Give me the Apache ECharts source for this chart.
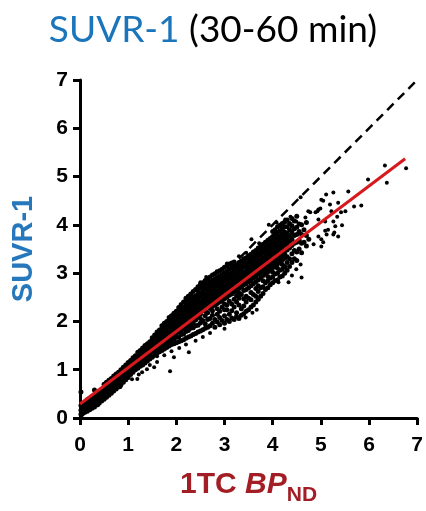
<!DOCTYPE html>
<html>
<head>
<meta charset="utf-8">
<script src="https://cdn.jsdelivr.net/npm/echarts@6/dist/echarts.min.js"></script>
<style>
  html, body { margin: 0; padding: 0; background: #fff; }
  #chart { width: 426px; height: 511px; }
</style>
</head>
<body>
<div id="chart"></div>
<script>
// Axis ticks
const tickValues = [0, 1, 2, 3, 4, 5, 6, 7];

// Dense cloud, one column per x: [x, y1, y2, ...]
const colsLow = [
  [0.02, 0.08, 0.16, 0.26, 0.54],
  [0.05, 0.10, 0.19, 0.30],
  [0.10, 0.12, 0.21, 0.28],
  [0.15, 0.14, 0.22, 0.31, 0.38],
  [0.20, 0.17, 0.26, 0.33, 0.41],
  [0.25, 0.20, 0.28, 0.37, 0.44],
  [0.30, 0.23, 0.32, 0.39, 0.47, 0.58],
  [0.35, 0.27, 0.34, 0.43, 0.51],
  [0.40, 0.31, 0.40, 0.47, 0.55],
  [0.45, 0.35, 0.42, 0.51, 0.59],
  [0.50, 0.39, 0.48, 0.55, 0.63, 0.70],
  [0.55, 0.43, 0.50, 0.59, 0.66, 0.74],
  [0.60, 0.47, 0.56, 0.63, 0.71, 0.78],
  [0.65, 0.51, 0.58, 0.67, 0.74, 0.82],
  [0.70, 0.56, 0.65, 0.72, 0.80, 0.87],
  [0.75, 0.60, 0.67, 0.76, 0.83, 0.91],
  [0.80, 0.64, 0.73, 0.80, 0.88, 0.95],
  [0.85, 0.69, 0.76, 0.85, 0.92, 1.00],
  [0.90, 0.74, 0.83, 0.90, 0.98, 1.05],
  [0.95, 0.79, 0.86, 0.95, 1.02, 1.10],
  [1.00, 0.84, 0.93, 1.00, 1.08, 1.15],
  [1.05, 0.90, 0.97, 1.06, 1.12, 1.19],
  [1.10, 0.95, 1.04, 1.11, 1.18, 1.25],
  [1.15, 1.00, 1.07, 1.16, 1.22, 1.29],
  [1.20, 1.03, 1.13, 1.21, 1.29, 1.36],
  [1.25, 1.07, 1.15, 1.25, 1.32, 1.40],
  [1.30, 1.10, 1.20, 1.28, 1.37, 1.45],
  [1.35, 1.14, 1.22, 1.32, 1.40, 1.50],
  [1.40, 1.18, 1.28, 1.36, 1.45, 1.54],
  [1.45, 1.22, 1.30, 1.40, 1.48, 1.58]
];

const colsMid = [
  [1.50, 1.26, 1.36, 1.44, 1.53, 1.61, 1.66],
  [1.55, 1.30, 1.38, 1.48, 1.56, 1.66, 1.72],
  [1.60, 1.34, 1.44, 1.52, 1.61, 1.69, 1.78],
  [1.65, 1.37, 1.45, 1.55, 1.63, 1.73, 1.82],
  [1.70, 1.40, 1.50, 1.58, 1.67, 1.75, 1.85, 1.91],
  [1.75, 1.43, 1.51, 1.61, 1.69, 1.79, 1.87, 1.96],
  [1.80, 1.46, 1.56, 1.64, 1.73, 1.81, 1.91, 2.00],
  [1.85, 1.49, 1.57, 1.67, 1.75, 1.85, 1.93, 2.03, 2.08],
  [1.90, 1.52, 1.62, 1.70, 1.79, 1.87, 1.97, 2.05, 2.12],
  [1.95, 1.54, 1.63, 1.73, 1.81, 1.91, 1.99, 2.09, 2.17],
  [2.00, 1.56, 1.67, 1.76, 1.85, 1.93, 2.03, 2.11, 2.21],
  [2.05, 1.58, 1.68, 1.79, 1.87, 1.97, 2.05, 2.15, 2.23, 2.29],
  [2.10, 1.60, 1.73, 1.82, 1.91, 1.99, 2.09, 2.17, 2.27, 2.35],
  [2.15, 1.62, 1.74, 1.85, 1.93, 2.03, 2.11, 2.21, 2.29, 2.40],
  [2.20, 1.65, 1.79, 1.88, 1.97, 2.05, 2.15, 2.23, 2.33, 2.41, 2.48],
  [2.25, 1.68, 1.81, 1.91, 1.99, 2.09, 2.17, 2.27, 2.35, 2.45, 2.52],
  [2.30, 1.70, 1.86, 1.94, 2.03, 2.11, 2.21, 2.29, 2.39, 2.47, 2.57],
  [2.35, 1.73, 1.87, 1.97, 2.05, 2.15, 2.23, 2.33, 2.41, 2.51, 2.62],
  [2.40, 1.75, 1.91, 2.03, 2.09, 2.17, 2.27, 2.35, 2.45, 2.53, 2.66],
  [2.45, 1.78, 1.92, 2.11, 2.21, 2.29, 2.39, 2.47, 2.57, 2.65, 2.72],
  [2.50, 1.80, 1.97, 2.06, 2.15, 2.23, 2.33, 2.41, 2.51, 2.59, 2.69, 2.77],
  [2.55, 1.83, 2.02, 2.26, 2.36, 2.44, 2.54, 2.62, 2.72, 2.80],
  [2.60, 1.86, 1.95, 2.12, 2.21, 2.31, 2.39, 2.49, 2.57, 2.67, 2.75, 2.85],
  [2.65, 1.88, 2.04, 2.18, 2.32, 2.42, 2.50, 2.60, 2.68, 2.78, 2.88],
  [2.70, 1.91, 2.06, 2.27, 2.37, 2.45, 2.55, 2.63, 2.73, 2.81, 2.92],
  [2.75, 1.96, 2.13, 2.22, 2.31, 2.39, 2.49, 2.57, 2.67, 2.75, 2.85, 2.96],
  [2.80, 1.88, 2.04, 2.34, 2.44, 2.52, 2.62, 2.70, 2.80, 2.88, 2.99],
  [2.85, 1.99, 2.15, 2.26, 2.37, 2.45, 2.55, 2.63, 2.73, 2.81, 2.91, 3.02],
  [2.90, 1.93, 2.08, 2.21, 2.40, 2.50, 2.58, 2.68, 2.76, 2.86, 2.94, 3.05],
  [2.95, 2.02, 2.30, 2.43, 2.51, 2.61, 2.69, 2.79, 2.87, 2.97, 3.08]
];

const colsHigh = [
  [3.00, 1.96, 2.12, 2.24, 2.36, 2.47, 2.55, 2.65, 2.73, 2.83, 2.91, 3.01, 3.12],
  [3.05, 2.04, 2.24, 2.34, 2.50, 2.58, 2.68, 2.76, 2.86, 2.94, 3.04, 3.15],
  [3.10, 2.00, 2.15, 2.42, 2.54, 2.62, 2.72, 2.80, 2.90, 2.98, 3.08, 3.19],
  [3.15, 2.07, 2.22, 2.36, 2.57, 2.65, 2.75, 2.83, 2.93, 3.01, 3.11, 3.21],
  [3.20, 2.04, 2.30, 2.46, 2.61, 2.69, 2.79, 2.87, 2.97, 3.05, 3.15, 3.23],
  [3.25, 2.10, 2.18, 2.40, 2.53, 2.63, 2.73, 2.81, 2.91, 2.99, 3.09, 3.17],
  [3.30, 2.06, 2.34, 2.48, 2.59, 2.68, 2.78, 2.86, 2.96, 3.04, 3.14, 3.22],
  [3.35, 2.13, 2.26, 2.56, 2.71, 2.79, 2.89, 2.97, 3.07, 3.15, 3.25],
  [3.40, 2.16, 2.32, 2.47, 2.64, 2.76, 2.84, 2.94, 3.02, 3.12, 3.20, 3.30],
  [3.45, 2.21, 2.40, 2.52, 2.66, 2.78, 2.86, 2.96, 3.04, 3.14, 3.22, 3.32],
  [3.50, 2.24, 2.48, 2.70, 2.82, 2.90, 3.00, 3.08, 3.18, 3.26, 3.36],
  [3.55, 2.30, 2.45, 2.60, 2.74, 2.85, 2.93, 3.03, 3.11, 3.21, 3.29, 3.39],
  [3.60, 2.34, 2.56, 2.78, 2.90, 2.98, 3.08, 3.16, 3.26, 3.34, 3.44],
  [3.65, 2.40, 2.52, 2.68, 2.82, 2.93, 3.01, 3.11, 3.19, 3.29, 3.37, 3.47],
  [3.70, 2.46, 2.62, 2.74, 2.86, 2.98, 3.06, 3.16, 3.24, 3.34, 3.42, 3.52],
  [3.75, 2.52, 2.70, 2.90, 3.00, 3.09, 3.19, 3.27, 3.37, 3.45, 3.55],
  [3.80, 2.58, 2.72, 2.84, 2.95, 3.05, 3.13, 3.23, 3.31, 3.41, 3.50, 3.60],
  [3.85, 2.66, 2.80, 2.99, 3.08, 3.16, 3.26, 3.34, 3.44, 3.53, 3.64],
  [3.90, 2.70, 2.84, 2.93, 3.03, 3.13, 3.21, 3.31, 3.39, 3.49, 3.58, 3.68],
  [3.95, 2.76, 2.90, 3.07, 3.16, 3.24, 3.34, 3.42, 3.52, 3.61, 3.72],
  [4.00, 2.80, 2.92, 3.02, 3.11, 3.21, 3.29, 3.39, 3.47, 3.57, 3.66, 3.76, 3.86],
  [4.05, 2.84, 2.98, 3.15, 3.24, 3.32, 3.42, 3.50, 3.60, 3.69, 3.80, 3.90],
  [4.10, 2.86, 3.00, 3.10, 3.19, 3.29, 3.37, 3.47, 3.55, 3.65, 3.74, 3.84, 3.96],
  [4.15, 2.92, 3.06, 3.23, 3.32, 3.40, 3.50, 3.58, 3.68, 3.77, 3.88, 3.99],
  [4.20, 2.94, 3.08, 3.18, 3.27, 3.37, 3.45, 3.55, 3.63, 3.73, 3.82, 3.92, 4.03],
  [4.25, 3.00, 3.14, 3.31, 3.40, 3.48, 3.58, 3.66, 3.76, 3.85, 3.96, 4.06],
  [4.30, 3.06, 3.22, 3.34, 3.48, 3.60, 3.71, 3.82, 3.96, 4.10],
  [4.35, 3.14, 3.30, 3.52, 3.66, 3.77, 3.90, 4.03],
  [4.40, 3.22, 3.40, 3.57, 3.70, 3.84, 3.98, 4.13],
  [4.45, 3.30, 3.47, 3.62, 3.78, 3.92, 4.08],
  [4.50, 3.26, 3.44, 3.64, 3.80, 3.95, 4.18],
  [4.55, 3.50, 3.68, 3.86, 4.02],
  [4.60, 3.42, 3.62, 3.80, 4.00],
  [4.65, 3.64, 3.90],
  [4.70, 3.56, 3.78, 4.05],
  [4.75, 3.70]
];

// Scattered points below the main band
const sparseLow = [
  [0.38, 0.27], [0.84, 0.64], [1.08, 0.80], [1.19, 0.81], [1.22, 0.90],
  [1.29, 0.95], [1.39, 1.01], [1.54, 1.05], [1.45, 1.10], [1.60, 1.16],
  [1.60, 1.28], [1.87, 0.97], [1.95, 1.26], [1.75, 1.30], [1.90, 1.38],
  [2.06, 1.45], [2.26, 1.36], [2.20, 1.52], [2.40, 1.60], [2.55, 1.68],
  [2.70, 1.76], [3.00, 1.85], [3.44, 2.08], [3.67, 2.24], [3.58, 2.18],
  [4.12, 2.81], [4.33, 2.81], [4.40, 2.95], [4.49, 3.08], [4.58, 3.18],
  [4.60, 2.91], [4.85, 3.60], [5.01, 3.55], [5.05, 3.64]
];

// Scattered points above the band and along the upper tail
const sparseHigh = [
  [2.50, 2.81], [2.62, 2.92], [2.84, 3.04], [3.05, 3.20], [3.30, 3.35],
  [3.45, 3.42], [3.56, 3.70], [3.72, 3.62], [3.92, 4.00], [4.08, 4.05],
  [4.16, 3.97], [4.26, 4.11], [4.37, 4.17], [4.49, 4.07], [4.58, 4.57],
  [4.68, 4.15], [4.74, 4.28], [4.78, 4.26], [4.89, 4.26], [4.93, 4.28],
  [4.95, 4.32], [4.95, 4.11], [4.99, 4.34], [5.01, 4.52], [5.01, 3.70],
  [4.95, 3.76], [5.05, 4.50], [5.09, 4.07], [5.09, 3.88], [5.11, 4.63],
  [5.12, 3.80], [5.15, 3.90], [5.19, 4.42], [5.22, 4.28], [5.26, 4.67],
  [5.26, 4.07], [5.26, 3.80], [5.28, 3.84], [5.30, 3.97], [5.34, 4.17],
  [5.36, 4.46], [5.36, 3.76], [5.42, 4.26], [5.44, 3.99], [5.51, 4.28],
  [5.57, 4.69], [5.69, 4.38], [5.84, 4.40], [5.98, 4.94], [6.33, 5.23],
  [6.37, 4.87], [6.77, 5.17]
];

// Fitted regression line and line of identity
const fitLine = [[0, 0.29], [6.75, 5.37]];
const identityLine = [[0, 0], [7, 7]];

const densePoints = [].concat(colsLow, colsMid, colsHigh)
  .flatMap(col => col.slice(1).map(y => [col[0], y]));
const sparsePoints = sparseLow.concat(sparseHigh);

const axisFont = {
  fontFamily: 'Liberation Sans, Arial, sans-serif',
  fontWeight: 'bold',
  fontSize: 21,
  color: '#000'
};
const nameFont = 'Liberation Sans, Arial, sans-serif';
const nameRed = '#a31d24';

const chart = echarts.init(document.getElementById('chart'), null, { renderer: 'canvas' });

chart.setOption({
  animation: false,
  backgroundColor: '#fff',
  title: {
    text: '{a|SUVR-1}{b| (30-60 min)}',
    left: 'center',
    top: 7,
    textStyle: {
      fontWeight: 'normal',
      rich: {
        a: { fontFamily: 'Lato', fontWeight: 'normal', fontSize: 37, color: '#1b75bb' },
        b: { fontFamily: 'Lato', fontWeight: 'normal', fontSize: 37, color: '#000' }
      }
    }
  },
  grid: { left: 80, top: 80, right: 7, bottom: 92 },
  xAxis: {
    type: 'value',
    min: 0, max: 7, interval: 1,
    name: '{a|1TC }{b|BP}{c|ND}',
    nameLocation: 'middle',
    nameGap: 52,
    nameTextStyle: {
      rich: {
        a: { fontFamily: nameFont, fontWeight: 'bold', fontSize: 30, color: nameRed, verticalAlign: 'bottom', padding: [0, 0, 6, 0] },
        b: { fontFamily: nameFont, fontWeight: 'bold', fontStyle: 'italic', fontSize: 30, color: nameRed, verticalAlign: 'bottom', padding: [0, 0, 6, 0] },
        c: { fontFamily: nameFont, fontWeight: 'bold', fontSize: 21, color: nameRed, verticalAlign: 'bottom' }
      }
    },
    axisLine: { lineStyle: { color: '#000', width: 3 } },
    axisTick: { length: 7, lineStyle: { color: '#000', width: 3 } },
    axisLabel: Object.assign({ margin: 17, formatter: v => tickValues.includes(v) ? String(v) : '' }, axisFont),
    splitLine: { show: false }
  },
  yAxis: {
    type: 'value',
    min: 0, max: 7, interval: 1,
    name: 'SUVR-1',
    nameLocation: 'middle',
    nameRotate: 90,
    nameGap: 42,
    nameTextStyle: {
      fontFamily: nameFont,
      fontWeight: 'bold',
      fontSize: 29,
      color: '#2677bb'
    },
    axisLine: { lineStyle: { color: '#000', width: 3 } },
    axisTick: { length: 7, lineStyle: { color: '#000', width: 3 } },
    axisLabel: Object.assign({ margin: 12, formatter: v => tickValues.includes(v) ? String(v) : '' }, axisFont),
    splitLine: { show: false }
  },
  series: [
    {
      name: 'identity',
      type: 'line',
      data: identityLine,
      symbol: 'none',
      silent: true,
      z: 1,
      lineStyle: { color: '#000', width: 2.5, type: [9, 6] }
    },
    {
      name: 'regions',
      type: 'scatter',
      data: densePoints,
      symbol: 'circle',
      symbolSize: 5,
      z: 2,
      itemStyle: { color: '#000', opacity: 1 }
    },
    {
      name: 'outlying regions',
      type: 'scatter',
      data: sparsePoints,
      symbol: 'circle',
      symbolSize: 4,
      z: 2,
      itemStyle: { color: '#000', opacity: 1 }
    },
    {
      name: 'fit',
      type: 'line',
      data: fitLine,
      symbol: 'none',
      silent: true,
      z: 3,
      lineStyle: { color: '#d7191c', width: 3 }
    }
  ]
});
</script>
</body>
</html>
